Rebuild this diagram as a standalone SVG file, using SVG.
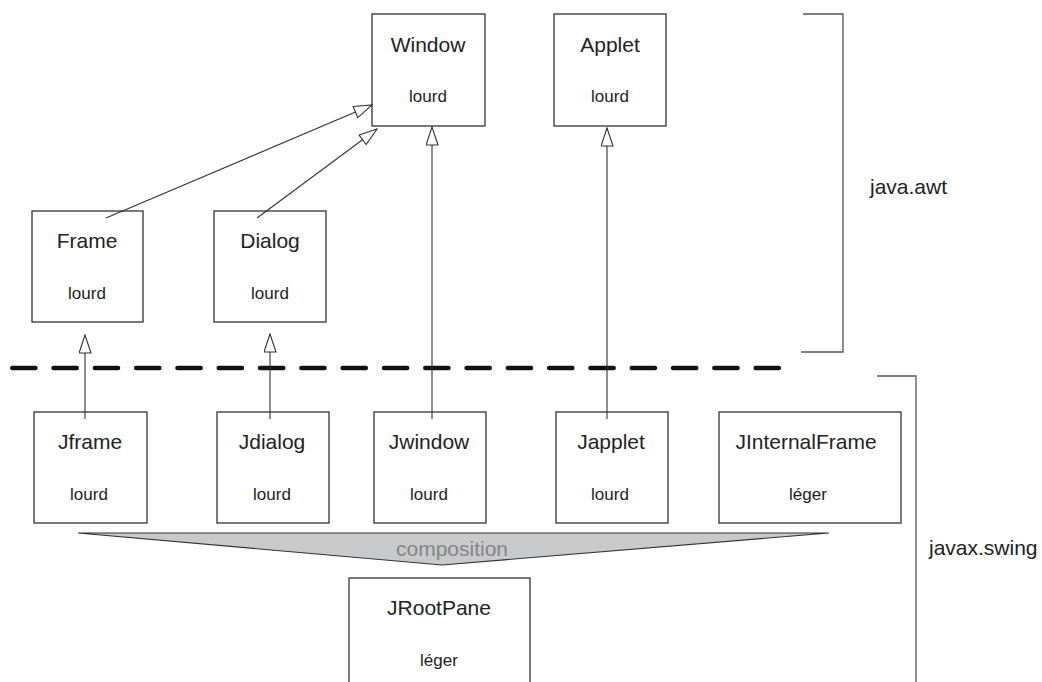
<svg xmlns="http://www.w3.org/2000/svg" width="1042" height="682" viewBox="0 0 1042 682">
  <defs>
    <style>
      .box { fill: #ffffff; stroke: #333333; stroke-width: 1.3; }
      .title { font-family: "Liberation Sans", Arial, sans-serif; font-size: 21px; fill: #222222; text-anchor: middle; }
      .kind { font-family: "Liberation Sans", Arial, sans-serif; font-size: 17px; fill: #222222; text-anchor: middle; }
      .pkg { font-family: "Liberation Sans", Arial, sans-serif; font-size: 21px; fill: #222222; }
      .edge { fill: none; stroke: #333333; stroke-width: 1.1; }
      .bracket { fill: none; stroke: #555555; stroke-width: 1.3; }
    </style>
    <!-- hollow triangle for inheritance -->
    <marker id="inherit" markerUnits="userSpaceOnUse" markerWidth="20" markerHeight="14" refX="19" refY="6.5" orient="auto">
      <path d="M1,0.5 L19,6.5 L1,12.5 Z" fill="#ffffff" stroke="#333333" stroke-width="1.1"/>
    </marker>
  </defs>

  <rect width="1042" height="682" fill="#ffffff"/>

  <!-- package brackets -->
  <g id="packages">
    <path class="bracket" d="M803,14 H843 V352 H801"/>
    <text class="pkg" x="870" y="194">java.awt</text>
    <path class="bracket" d="M877,376 H916 V682"/>
    <text class="pkg" x="929" y="555">javax.swing</text>
  </g>

  <!-- boundary between AWT and Swing -->
  <line id="separator" x1="12.25" y1="368" x2="780" y2="368" stroke="#111111" stroke-width="4.5" stroke-linecap="round" stroke-dasharray="23.2 18.1"/>

  <!-- composition wedge -->
  <g id="composition">
    <polygon points="78,533 829,533 442,565" fill="#c8c9cb" stroke="#333333" stroke-width="1.1"/>
    <text x="452" y="556" font-family="'Liberation Sans', Arial, sans-serif" font-size="21" fill="#858585" text-anchor="middle">composition</text>
  </g>

  <!-- AWT classes -->
  <g id="window">
    <rect class="box" x="372" y="14" width="113" height="112"/>
    <text class="title" x="428" y="52">Window</text>
    <text class="kind" x="428" y="102">lourd</text>
  </g>
  <g id="applet">
    <rect class="box" x="554" y="14" width="112" height="112"/>
    <text class="title" x="610" y="52">Applet</text>
    <text class="kind" x="610" y="102">lourd</text>
  </g>
  <g id="frame">
    <rect class="box" x="32" y="211" width="111" height="111"/>
    <text class="title" x="87" y="248">Frame</text>
    <text class="kind" x="87" y="299">lourd</text>
  </g>
  <g id="dialog">
    <rect class="box" x="214" y="211" width="112" height="111"/>
    <text class="title" x="270" y="248">Dialog</text>
    <text class="kind" x="270" y="299">lourd</text>
  </g>

  <!-- Swing classes -->
  <g id="jframe">
    <rect class="box" x="34" y="412" width="113" height="111"/>
    <text class="title" x="90" y="449">Jframe</text>
    <text class="kind" x="89" y="500">lourd</text>
  </g>
  <g id="jdialog">
    <rect class="box" x="217" y="412" width="112" height="111"/>
    <text class="title" x="272" y="449">Jdialog</text>
    <text class="kind" x="272" y="500">lourd</text>
  </g>
  <g id="jwindow">
    <rect class="box" x="374" y="412" width="112" height="111"/>
    <text class="title" x="429" y="449">Jwindow</text>
    <text class="kind" x="429" y="500">lourd</text>
  </g>
  <g id="japplet">
    <rect class="box" x="556" y="412" width="112" height="111"/>
    <text class="title" x="611" y="449">Japplet</text>
    <text class="kind" x="610" y="500">lourd</text>
  </g>
  <g id="jinternalframe">
    <rect class="box" x="719" y="412" width="182" height="111"/>
    <text class="title" x="806" y="449">JInternalFrame</text>
    <text class="kind" x="808" y="500">léger</text>
  </g>
  <g id="jrootpane">
    <rect class="box" x="349" y="578" width="181" height="120"/>
    <text class="title" x="439" y="615">JRootPane</text>
    <text class="kind" x="439" y="666">léger</text>
  </g>

  <!-- inheritance connectors, drawn over the boxes they start in -->
  <g id="connectors">
    <line class="edge" x1="106" y1="218" x2="372" y2="105" marker-end="url(#inherit)"/>
    <line class="edge" x1="257" y1="218" x2="377" y2="129" marker-end="url(#inherit)"/>
    <line class="edge" x1="432" y1="419" x2="432" y2="127" marker-end="url(#inherit)"/>
    <line class="edge" x1="607" y1="419" x2="607" y2="128" marker-end="url(#inherit)"/>
    <line class="edge" x1="85" y1="419" x2="85" y2="335" marker-end="url(#inherit)"/>
    <line class="edge" x1="270" y1="419" x2="270" y2="334" marker-end="url(#inherit)"/>
  </g>
</svg>
